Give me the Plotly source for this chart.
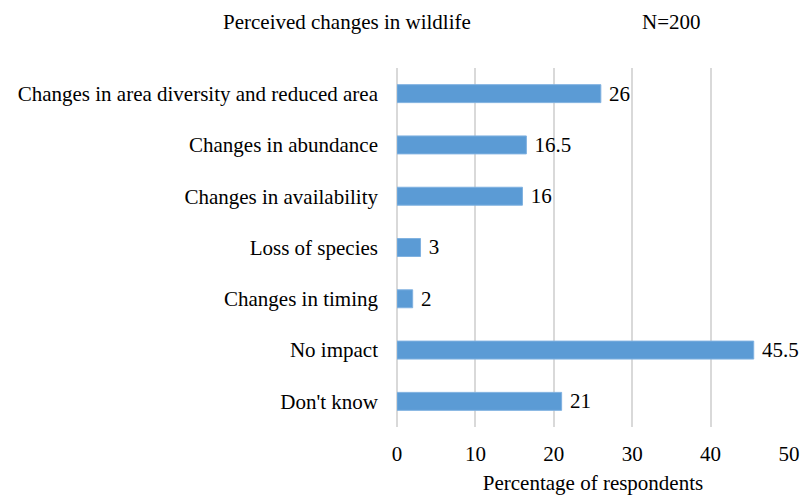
import plotly.graph_objects as go

categories = [
    "Changes in area diversity and reduced area",
    "Changes in abundance",
    "Changes in availability",
    "Loss of species",
    "Changes in timing",
    "No impact",
    "Don't know",
]
percentages = [26, 16.5, 16, 3, 2, 45.5, 21]
x_ticks = [0, 10, 20, 30, 40, 50]

FONT = "Liberation Serif, Times New Roman, serif"
FS = 21
BAR_COLOR = "#5b9bd5"
GRID_COLOR = "#d9d9d9"

fig = go.Figure(
    go.Bar(
        y=categories,
        x=percentages,
        orientation="h",
        marker=dict(color=BAR_COLOR, line=dict(color="#7fb1e0", width=1)),
        width=0.35,
        texttemplate="\u00a0%{x}",
        textposition="outside",
        constraintext="none",
        textfont=dict(family=FONT, size=FS, color="#000000"),
        cliponaxis=False,
        hoverinfo="skip",
    )
)

fig.update_layout(
    width=803,
    height=495,
    margin=dict(l=397, r=14, t=68, b=68),
    paper_bgcolor="white",
    plot_bgcolor="white",
    font=dict(family=FONT, size=FS, color="#000000"),
    showlegend=False,
    annotations=[
        dict(
            text="Perceived changes in wildlife",
            xref="paper", yref="paper",
            x=(221 - 397) / 392, y=1 + (68 - 22) / 359,
            xanchor="left", yanchor="middle",
            showarrow=False,
            font=dict(family=FONT, size=FS, color="#000000"),
        ),
        dict(
            text="N=200",
            xref="paper", yref="paper",
            x=(640 - 397) / 392, y=1 + (68 - 22) / 359,
            xanchor="left", yanchor="middle",
            showarrow=False,
            font=dict(family=FONT, size=FS, color="#000000"),
        ),
    ],
)

fig.update_xaxes(
    range=[0, 50],
    tickvals=x_ticks,
    automargin=False,
    showgrid=True,
    gridcolor=GRID_COLOR,
    gridwidth=2,
    zeroline=True,
    zerolinecolor=GRID_COLOR,
    zerolinewidth=2,
    showline=False,
    ticks="",
    ticklabelstandoff=12,
    tickfont=dict(family=FONT, size=FS),
    title=dict(text="Percentage of respondents", standoff=18,
               font=dict(family=FONT, size=FS)),
)

fig.update_yaxes(
    categoryorder="array",
    categoryarray=categories[::-1],
    automargin=False,
    showgrid=False,
    zeroline=False,
    showline=False,
    ticks="",
    ticklabelstandoff=18,
    tickfont=dict(family=FONT, size=FS),
)

fig.write_html("out.html")
